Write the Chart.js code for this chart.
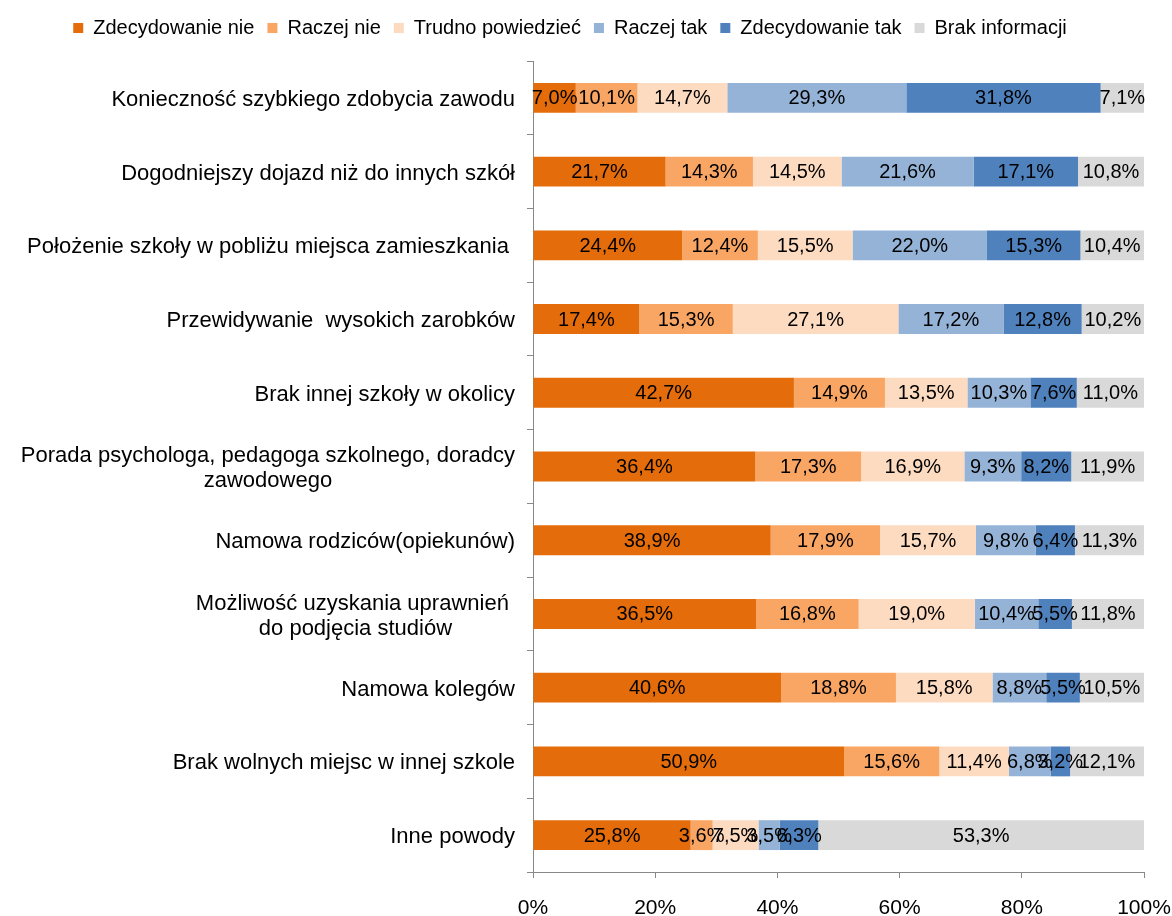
<!DOCTYPE html>
<html>
<head>
<meta charset="utf-8">
<script src="https://cdn.jsdelivr.net/npm/chart.js@4/dist/chart.umd.min.js"></script>
<style>
  html, body { margin: 0; padding: 0; background: #fff; }
  #wrap { width: 1172px; height: 916px; }
</style>
</head>
<body>
<div id="wrap"><canvas id="c" width="1172" height="916"></canvas></div>
<script>
const categories = [
  ["Konieczność szybkiego zdobycia zawodu"],
  ["Dogodniejszy dojazd niż do innych szkół"],
  ["Położenie szkoły w pobliżu miejsca zamieszkania "],
  ["Przewidywanie  wysokich zarobków"],
  ["Brak innej szkoły w okolicy"],
  ["Porada psychologa, pedagoga szkolnego, doradcy", "zawodowego"],
  ["Namowa rodziców(opiekunów)"],
  ["Możliwość uzyskania uprawnień ", "do podjęcia studiów"],
  ["Namowa kolegów"],
  ["Brak wolnych miejsc w innej szkole"],
  ["Inne powody"]
];
const seriesNames = ["Zdecydowanie nie", "Raczej nie", "Trudno powiedzieć", "Raczej tak", "Zdecydowanie tak", "Brak informacji"];
const zdecydowanieNie = [7.0, 21.7, 24.4, 17.4, 42.7, 36.4, 38.9, 36.5, 40.6, 50.9, 25.8];
const raczejNie       = [10.1, 14.3, 12.4, 15.3, 14.9, 17.3, 17.9, 16.8, 18.8, 15.6, 3.6];
const trudnoPowiedziec= [14.7, 14.5, 15.5, 27.1, 13.5, 16.9, 15.7, 19.0, 15.8, 11.4, 7.5];
const raczejTak       = [29.3, 21.6, 22.0, 17.2, 10.3, 9.3, 9.8, 10.4, 8.8, 6.8, 3.5];
const zdecydowanieTak = [31.8, 17.1, 15.3, 12.8, 7.6, 8.2, 6.4, 5.5, 5.5, 3.2, 6.3];
const brakInformacji  = [7.1, 10.8, 10.4, 10.2, 11.0, 11.9, 11.3, 11.8, 10.5, 12.1, 53.3];
const xTicks = [0, 20, 40, 60, 80, 100];

const seriesValues = [zdecydowanieNie, raczejNie, trudnoPowiedziec, raczejTak, zdecydowanieTak, brakInformacji];
const colors = ["#E46C0A", "#F9A665", "#FDDBC1", "#95B3D7", "#4F81BD", "#D9D9D9"];
const FONT = "'Liberation Sans', Arial, sans-serif";

const fmt = v => v.toFixed(1).replace('.', ',') + '%';

const legendSpace = {
  id: 'legendSpace',
  afterInit(chart) {
    const lg = chart.legend;
    if (lg && !lg._patched) {
      const orig = lg.fit.bind(lg);
      lg.fit = function () { orig(); this.height += 13; };
      lg._patched = true;
    }
  },
  afterLayout(chart) {
    const lg = chart.legend;
    if (lg) { lg.left -= 2; lg.right -= 2; }
  }
};

const dataLabels = {
  id: 'dataLabels',
  afterDatasetsDraw(chart) {
    const ctx = chart.ctx;
    ctx.save();
    ctx.font = "20px " + FONT;
    ctx.fillStyle = "#000";
    ctx.textAlign = "center";
    ctx.textBaseline = "middle";
    chart.data.datasets.forEach((ds, i) => {
      const meta = chart.getDatasetMeta(i);
      meta.data.forEach((bar, j) => {
        const cx = (bar.x + bar.base) / 2;
        ctx.fillText(fmt(ds.data[j]), cx, bar.y + 1);
      });
    });
    ctx.restore();
  }
};

const yLabels = {
  id: 'yLabels',
  afterDraw(chart) {
    const scale = chart.scales.y;
    const ctx = chart.ctx;
    ctx.save();
    ctx.font = "22px " + FONT;
    ctx.fillStyle = "#000";
    ctx.textBaseline = "middle";
    const right = scale.right - 18;
    const lh = 25;
    chart.data.labels.forEach((lines, i) => {
      const y = scale.getPixelForTick(i);
      if (lines.length === 1) {
        ctx.textAlign = "right";
        ctx.fillText(lines[0], right, y + 2);
      } else {
        const w = Math.max(...lines.map(l => ctx.measureText(l).width));
        const cx = right - w / 2;
        ctx.textAlign = "center";
        const y0 = y + 2 - (lines.length - 1) * lh / 2;
        lines.forEach((l, k) => ctx.fillText(l, cx, y0 + k * lh));
      }
    });
    ctx.restore();
  }
};

new Chart(document.getElementById('c'), {
  type: 'bar',
  data: {
    labels: categories,
    datasets: seriesNames.map((name, i) => ({
      label: name,
      data: seriesValues[i],
      backgroundColor: colors[i],
      borderWidth: 0,
      barPercentage: 0.81,
      categoryPercentage: 0.5
    }))
  },
  options: {
    indexAxis: 'y',
    responsive: false,
    animation: false,
    devicePixelRatio: 1,
    layout: { padding: { left: 0, right: 28, top: 5, bottom: 0 } },
    plugins: {
      legend: {
        position: 'top',
        labels: {
          boxWidth: 10,
          boxHeight: 10,
          padding: 13,
          color: '#000',
          font: { family: FONT, size: 20 }
        }
      },
      tooltip: { enabled: false }
    },
    scales: {
      x: {
        stacked: true,
        min: 0,
        max: 100,
        afterBuildTicks(scale) { scale.ticks = xTicks.map(v => ({ value: v })); },
        afterFit(scale) { scale.height = 44; scale.paddingRight = 0; scale.paddingLeft = 0; },
        ticks: {
          callback: v => v + '%',
          color: '#000',
          padding: 20,
          maxRotation: 0,
          font: { family: FONT, size: 21, lineHeight: 1 }
        },
        grid: { drawOnChartArea: false, tickLength: 6, color: '#888' },
        border: { color: '#888', width: 1 }
      },
      y: {
        stacked: true,
        offset: true,
        afterFit(scale) { scale.width = 533; },
        ticks: { display: false },
        grid: { offset: true, drawOnChartArea: false, tickLength: 6, color: '#888' },
        border: { color: '#888', width: 1 }
      }
    }
  },
  plugins: [legendSpace, dataLabels, yLabels]
});
</script>
</body>
</html>
